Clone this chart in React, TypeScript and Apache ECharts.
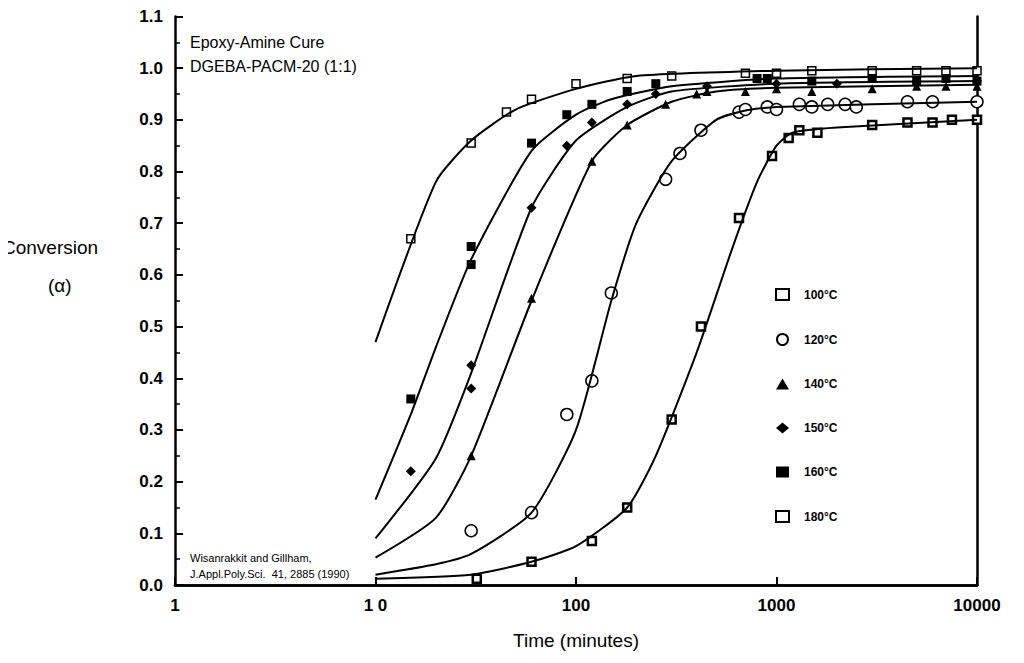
import * as echarts from "echarts";
import { useEffect, useRef } from "react";

// fitted curves [time, conversion]
const curve180 = [[10, 0.47], [20, 0.78], [30, 0.86], [50, 0.92], [100, 0.96], [200, 0.985], [1000, 0.995], [10000, 1.0]];
const curve160 = [[10, 0.165], [15, 0.33], [20, 0.46], [30, 0.63], [60, 0.84], [100, 0.91], [150, 0.94], [300, 0.965], [1000, 0.98], [10000, 0.985]];
const curve150 = [[10, 0.09], [20, 0.245], [30, 0.41], [60, 0.73], [100, 0.86], [180, 0.925], [300, 0.955], [1000, 0.97], [10000, 0.975]];
const curve140 = [[10, 0.053], [20, 0.13], [30, 0.25], [60, 0.55], [120, 0.82], [180, 0.89], [300, 0.935], [500, 0.955], [1000, 0.962], [10000, 0.968]];
const curve120 = [[10, 0.02], [20, 0.04], [30, 0.06], [60, 0.14], [100, 0.3], [150, 0.55], [200, 0.7], [300, 0.82], [500, 0.9], [700, 0.918], [1000, 0.925], [10000, 0.935]];
const curve100 = [[10, 0.012], [30, 0.02], [60, 0.045], [100, 0.075], [180, 0.15], [250, 0.25], [400, 0.45], [600, 0.65], [800, 0.78], [1000, 0.85], [1200, 0.875], [2000, 0.885], [10000, 0.9]];

// measured points
const pts180 = [[15, 0.67], [30, 0.855], [45, 0.915], [60, 0.94], [100, 0.97], [180, 0.98], [300, 0.985], [700, 0.99], [1000, 0.99], [1500, 0.995], [3000, 0.995], [5000, 0.995], [7000, 0.995], [10000, 0.995]];
const pts160 = [[15, 0.36], [30, 0.655], [30, 0.62], [60, 0.855], [90, 0.91], [120, 0.93], [180, 0.955], [250, 0.97], [800, 0.98], [900, 0.98], [1500, 0.975], [3000, 0.98], [5000, 0.975], [7000, 0.98], [10000, 0.975]];
const pts150 = [[15, 0.22], [30, 0.425], [30, 0.38], [60, 0.73], [90, 0.85], [120, 0.895], [180, 0.93], [250, 0.95], [450, 0.965], [1000, 0.97], [2000, 0.97], [5000, 0.975], [10000, 0.975]];
const pts140 = [[30, 0.25], [60, 0.555], [120, 0.82], [180, 0.89], [280, 0.93], [400, 0.95], [450, 0.955], [700, 0.955], [1000, 0.96], [1500, 0.955], [3000, 0.96], [5000, 0.965], [7000, 0.965], [10000, 0.965]];
const pts120 = [[30, 0.105], [60, 0.14], [90, 0.33], [120, 0.395], [150, 0.565], [280, 0.785], [330, 0.835], [420, 0.88], [650, 0.915], [700, 0.92], [900, 0.925], [1000, 0.92], [1300, 0.93], [1500, 0.925], [1800, 0.93], [2200, 0.93], [2500, 0.925], [4500, 0.935], [6000, 0.935], [10000, 0.935]];
const pts100 = [[32, 0.012], [60, 0.045], [120, 0.085], [180, 0.15], [300, 0.32], [420, 0.5], [650, 0.71], [950, 0.83], [1150, 0.865], [1300, 0.88], [1600, 0.875], [3000, 0.89], [4500, 0.895], [6000, 0.895], [7500, 0.9], [10000, 0.9]];

const labels = ["100°C", "120°C", "140°C", "150°C", "160°C", "180°C"];
const font = "Liberation Sans";

export default function App() {
	const chartRef = useRef<HTMLDivElement>(null);

	useEffect(() => {
		if (!chartRef.current) return;
		const chart = echarts.init(chartRef.current, null, { renderer: "svg" });
		const line = (data: number[][]) => ({
			type: "line",
			data,
			smooth: 0.2,
			symbol: "none",
			lineStyle: { color: "#000", width: 2 },
			silent: true,
		});
		const dots = (name: string, data: number[][], symbol: string, size: number, fill: string, bw = 1.5) => ({
			type: "scatter",
			name,
			data,
			symbol,
			symbolSize: size,
			itemStyle: { color: fill, borderColor: "#000", borderWidth: bw, opacity: 1 },
		});
		const frame = { lineStyle: { color: "#000", width: 2.5 } };
		chart.setOption({
			animation: false,
			textStyle: { fontFamily: font },
			grid: { left: 167, right: 39, top: 4, bottom: 65 },
			legend: {
				orient: "vertical",
				left: 762,
				top: 275,
				itemGap: 32,
				itemWidth: 13,
				itemHeight: 11,
				textStyle: { fontFamily: font, fontSize: 12, fontWeight: "bold", color: "#000", padding: [0, 0, 0, 10] },
				data: labels,
			},
			xAxis: [
				{
					type: "log",
					min: 1,
					max: 10000,
					logBase: 10,
					axisLine: frame,
					axisTick: { inside: true, length: 8, lineStyle: { color: "#000", width: 2 } },
					splitLine: { show: false },
					axisLabel: {
						color: "#000",
						fontSize: 17,
						fontWeight: "bold",
						margin: 12,
						formatter: (v: number) => (v === 10 ? "1 0" : String(v)),
					},
					name: "Time (minutes)",
					nameLocation: "middle",
					nameGap: 46,
					nameTextStyle: { color: "#000", fontSize: 19, fontFamily: font },
				},
				{
					type: "log",
					position: "top",
					min: 1,
					max: 10000,
					axisLine: frame,
					axisTick: { show: false },
					axisLabel: { show: false },
					splitLine: { show: false },
				},
			],
			yAxis: [
				{
					type: "value",
					min: 0,
					max: 1.1,
					interval: 0.1,
					axisLine: frame,
					axisTick: { inside: true, length: 8, lineStyle: { color: "#000", width: 2 } },
					minorTick: { show: true, splitNumber: 2, length: 5, lineStyle: { color: "#000", width: 1.5 } },
					splitLine: { show: false },
					axisLabel: { color: "#000", fontSize: 17, fontWeight: "bold", margin: 12, formatter: (v: number) => v.toFixed(1) },
				},
				{
					type: "value",
					position: "right",
					min: 0,
					max: 1.1,
					axisLine: { show: true, ...frame },
					axisTick: { show: false },
					axisLabel: { show: false },
					splitLine: { show: false },
				},
			],
			graphic: [
				{ type: "text", left: 182, top: 22, style: { text: "Epoxy-Amine Cure\nDGEBA-PACM-20 (1:1)", fontSize: 16, lineHeight: 24, fontFamily: font, fill: "#000" } },
				{ type: "text", left: 182, top: 542, style: { text: "Wisanrakkit and Gillham,\nJ.Appl.Poly.Sci.  41, 2885 (1990)", fontSize: 11, lineHeight: 16, fontFamily: font, fill: "#000" } },
				{ type: "text", left: -6, top: 230, style: { text: "Conversion", fontSize: 19, fontFamily: font, fill: "#000" } },
				{ type: "text", left: 40, top: 268, style: { text: "(α)", fontSize: 19, fontFamily: font, fill: "#000" } },
			],
			series: [
				line(curve180), line(curve160), line(curve150), line(curve140), line(curve120), line(curve100),
				dots(labels[0], pts100, "rect", 8, "#fff", 2.5),
				dots(labels[1], pts120, "circle", 12, "#fff", 1.5),
				dots(labels[2], pts140, "triangle", 9, "#000", 0),
				dots(labels[3], pts150, "diamond", 10, "#000", 0),
				dots(labels[4], pts160, "rect", 9, "#000", 0),
				dots(labels[5], pts180, "rect", 8, "#fff", 1.5),
			],
		});
		return () => chart.dispose();
	}, []);

	return <div ref={chartRef} style={{ width: 1008, height: 647 }} />;
}
